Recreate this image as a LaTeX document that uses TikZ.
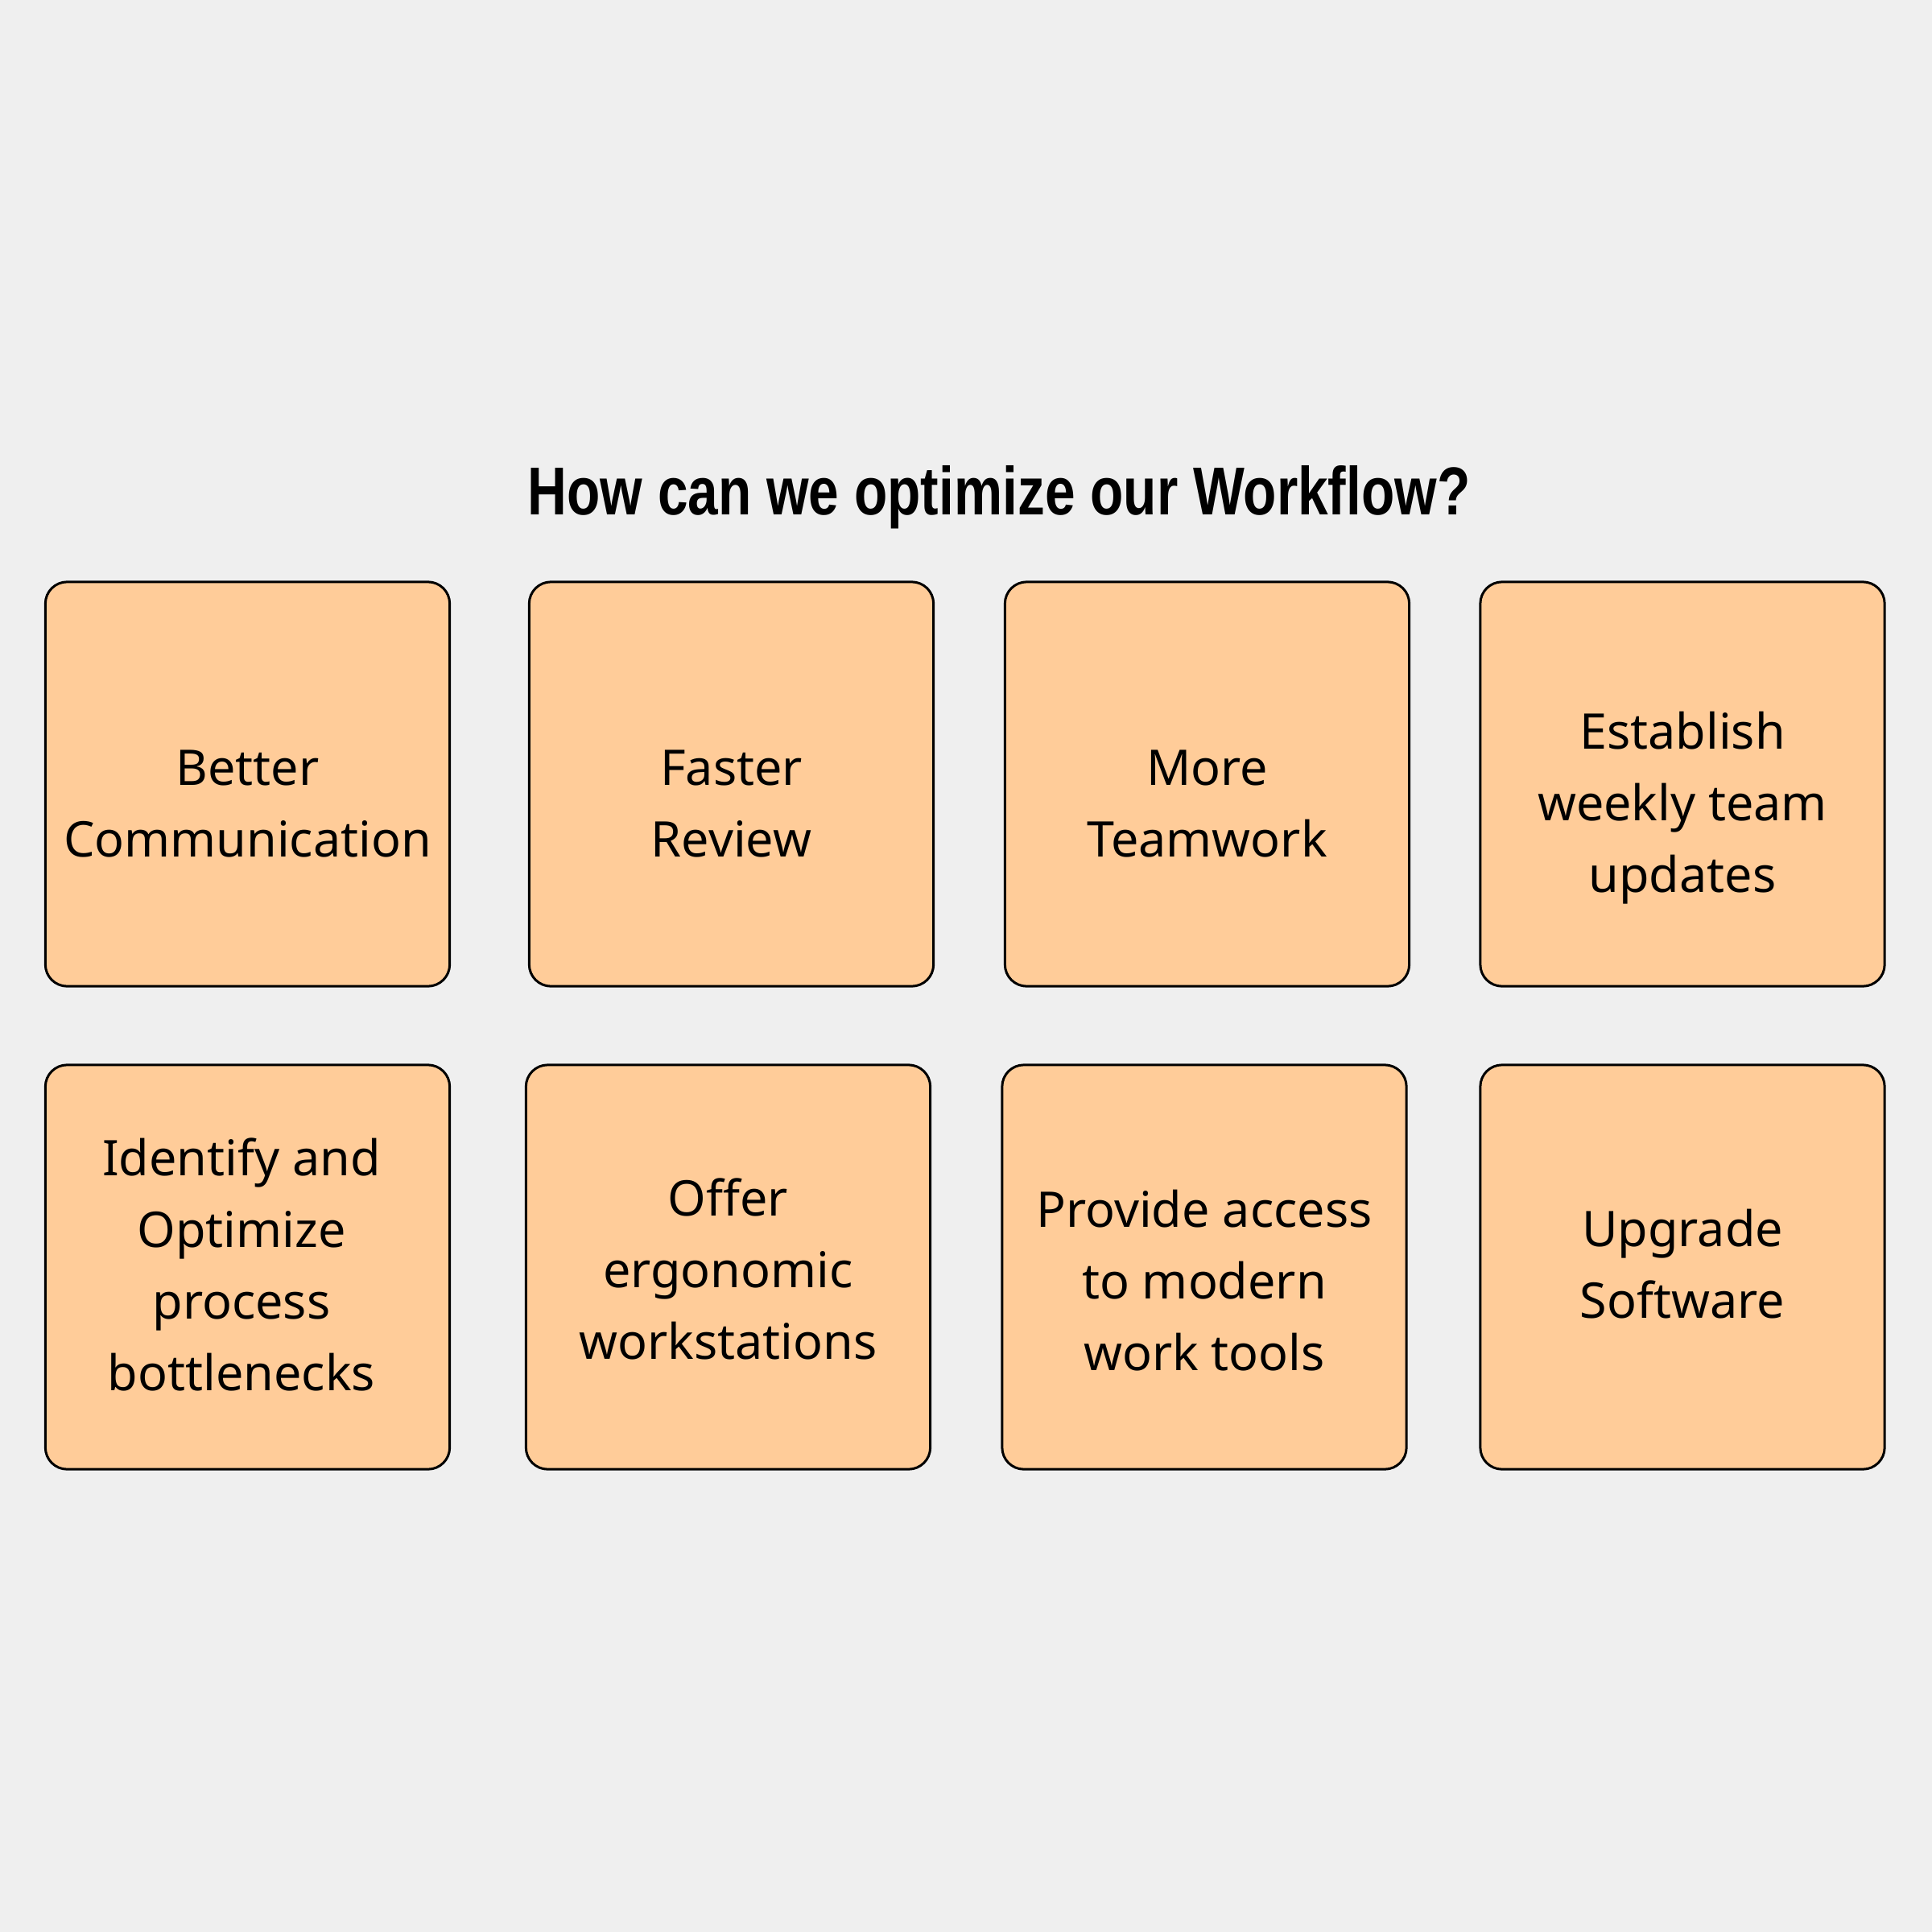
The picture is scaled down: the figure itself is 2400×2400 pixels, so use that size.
\documentclass[tikz,border=0pt]{standalone}
\usepackage{fontspec}
\usepackage{graphicx}
\setmainfont{Noto Sans}
\newfontfamily\titlefont{Liberation Sans}
\definecolor{bgcol}{RGB}{239,239,239}
\definecolor{notefill}{RGB}{255,204,153}
\tikzset{
  notebox/.style={draw=black, fill=notefill, line width=0.03cm, rounded corners=0.27cm,
    minimum width=5.02cm, minimum height=5.02cm, inner sep=0pt},
  notetext/.style={anchor=base, inner sep=0pt, font=\fontsize{17.36}{25.32}\selectfont},
}
\newcommand{\lines}[1]{\begin{tabular}[t]{@{}c@{}}#1\end{tabular}}
\begin{document}
\begin{tikzpicture}[x=0.01cm, y=-0.01cm]
  \fill[bgcol] (0,0) rectangle (2400,2400);
  \useasboundingbox (0,0) rectangle (2400,2400);

  \node[anchor=base, inner sep=0pt] (title) at (1241,639)
    {\resizebox{11.70cm}{0.61cm}{\titlefont\bfseries How can we optimize our Workflow?}};

  % row 1
  \node[notebox] (b1) at (307.5,974) {};
  \node[notebox] (b2) at (908.5,974) {};
  \node[notebox] (b3) at (1499.5,974) {};
  \node[notebox] (b4) at (2090,974) {};
  % row 2
  \node[notebox] (b5) at (307.5,1574) {};
  \node[notebox] (b6) at (904.5,1574) {};
  \node[notebox] (b7) at (1496,1574) {};
  \node[notebox] (b8) at (2090,1574) {};

  \node[notetext] (t1) at (307.5,975) {\lines{Better\\Communication}};
  \node[notetext] (t2) at (908.5,975) {\lines{Faster\\Review}};
  \node[notetext] (t3) at (1499.5,975) {\lines{More\\Teamwork}};
  \node[notetext] (t4) at (2090,930) {\lines{Establish\\weekly team\\updates}};
  \node[notetext] (t5) at (300,1460) {\lines{Identify and\\Optimize\\process\\bottlenecks}};
  \node[notetext] (t6) at (904.5,1510) {\lines{Offer\\ergonomic\\workstations}};
  \node[notetext] (t7) at (1496,1524) {\lines{Provide access\\to modern\\work tools}};
  \node[notetext] (t8) at (2090,1548) {\lines{Upgrade\\Software}};
\end{tikzpicture}
\end{document}
